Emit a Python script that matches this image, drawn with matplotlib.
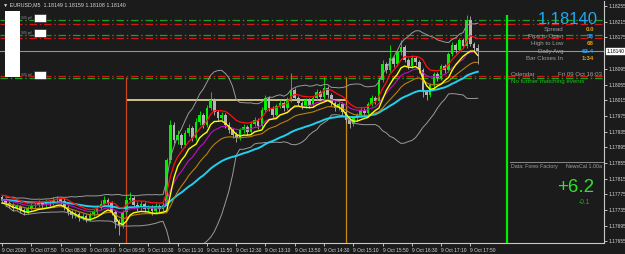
import matplotlib
matplotlib.use("Agg")
import matplotlib.pyplot as plt
from matplotlib.patches import Rectangle
import pandas as pd

W, H = 625, 254
plt.rcParams['font.family'] = ['Liberation Sans', 'DejaVu Sans']

# EURUSD M5, 9 Oct 2020, bars from 07:10
first_open = 1.17768
closes = [1.17761, 1.17753, 1.17748, 1.17740, 1.17745, 1.17735, 1.17730, 1.17740, 1.17745, 1.17748,
          1.17753, 1.17748, 1.17756, 1.17753, 1.17761, 1.17763, 1.17758, 1.17743, 1.17730, 1.17722,
          1.17725, 1.17715, 1.17720, 1.17712, 1.17725, 1.17730, 1.17740, 1.17750, 1.17761, 1.17753,
          1.17730, 1.17705, 1.17697, 1.17730, 1.17761, 1.17766, 1.17748, 1.17743, 1.17750, 1.17738,
          1.17740, 1.17733, 1.17745, 1.17738, 1.17748, 1.17863, 1.17952, 1.17914, 1.17926, 1.17901,
          1.17931, 1.17944, 1.17919, 1.17959, 1.17977, 1.17952, 1.17995, 1.18015, 1.17985, 1.17970,
          1.17977, 1.17952, 1.17939, 1.17926, 1.17919, 1.17939, 1.17947, 1.17934, 1.17954, 1.17965,
          1.17949, 1.17990, 1.18021, 1.17995, 1.17977, 1.18000, 1.18008, 1.17995, 1.18015, 1.18041,
          1.18021, 1.18008, 1.18000, 1.18015, 1.18003, 1.18021, 1.18036, 1.18023, 1.18046, 1.18028,
          1.18008, 1.17995, 1.18005, 1.17985, 1.17965, 1.17954, 1.17970, 1.17977, 1.17990, 1.17982,
          1.18005, 1.18021, 1.18013, 1.18066, 1.18107, 1.18092, 1.18123, 1.18107, 1.18138, 1.18151,
          1.18117, 1.18102, 1.18123, 1.18112, 1.18092, 1.18036, 1.18028, 1.18054, 1.18082, 1.18071,
          1.18102, 1.18092, 1.18133, 1.18156, 1.18143, 1.18168, 1.18153, 1.18219, 1.18158, 1.18149,
          1.18140]
highs = [1.17773, 1.17766, 1.17758, 1.17753, 1.17750, 1.17748, 1.17740, 1.17745, 1.17753, 1.17756,
         1.17761, 1.17758, 1.17763, 1.17761, 1.17768, 1.17771, 1.17768, 1.17766, 1.17748, 1.17735,
         1.17733, 1.17730, 1.17728, 1.17725, 1.17730, 1.17738, 1.17748, 1.17761, 1.17771, 1.17766,
         1.17758, 1.17735, 1.17712, 1.17735, 1.17773, 1.17781, 1.17771, 1.17756, 1.17758, 1.17756,
         1.17748, 1.17748, 1.17753, 1.17750, 1.17756, 1.17868, 1.17965, 1.17959, 1.17939, 1.17931,
         1.17939, 1.17954, 1.17949, 1.17970, 1.17987, 1.17982, 1.18003, 1.18036, 1.18021, 1.17990,
         1.17985, 1.17982, 1.17959, 1.17944, 1.17934, 1.17944, 1.17954, 1.17952, 1.17962, 1.17972,
         1.17970, 1.17998, 1.18028, 1.18026, 1.18000, 1.18005, 1.18015, 1.18013, 1.18023, 1.18084,
         1.18046, 1.18026, 1.18013, 1.18021, 1.18021, 1.18026, 1.18043, 1.18041, 1.18074, 1.18051,
         1.18033, 1.18013, 1.18010, 1.18010, 1.17990, 1.17970, 1.17975, 1.17982, 1.17998, 1.17995,
         1.18010, 1.18028, 1.18026, 1.18074, 1.18117, 1.18112, 1.18156, 1.18128, 1.18143, 1.18168,
         1.18156, 1.18123, 1.18130, 1.18128, 1.18117, 1.18097, 1.18041, 1.18059, 1.18087, 1.18087,
         1.18107, 1.18107, 1.18138, 1.18163, 1.18161, 1.18174, 1.18174, 1.18232, 1.18230, 1.18163,
         1.18159]
lows = [1.17753, 1.17745, 1.17740, 1.17733, 1.17735, 1.17728, 1.17722, 1.17725, 1.17735, 1.17738,
        1.17743, 1.17740, 1.17743, 1.17745, 1.17748, 1.17753, 1.17750, 1.17735, 1.17722, 1.17715,
        1.17715, 1.17707, 1.17710, 1.17705, 1.17707, 1.17720, 1.17725, 1.17735, 1.17745, 1.17745,
        1.17722, 1.17689, 1.17672, 1.17689, 1.17725, 1.17753, 1.17740, 1.17733, 1.17735, 1.17730,
        1.17728, 1.17722, 1.17725, 1.17730, 1.17733, 1.17740, 1.17855, 1.17906, 1.17903, 1.17893,
        1.17896, 1.17924, 1.17911, 1.17914, 1.17952, 1.17944, 1.17947, 1.17990, 1.17977, 1.17962,
        1.17965, 1.17944, 1.17931, 1.17919, 1.17908, 1.17914, 1.17931, 1.17926, 1.17929, 1.17949,
        1.17942, 1.17944, 1.17985, 1.17987, 1.17970, 1.17972, 1.17995, 1.17987, 1.17990, 1.18010,
        1.18015, 1.18000, 1.17993, 1.17995, 1.17995, 1.17998, 1.18015, 1.18015, 1.18018, 1.18021,
        1.18000, 1.17987, 1.17990, 1.17977, 1.17957, 1.17944, 1.17949, 1.17962, 1.17972, 1.17975,
        1.17977, 1.18000, 1.18005, 1.18008, 1.18061, 1.18084, 1.18087, 1.18100, 1.18102, 1.18130,
        1.18112, 1.18094, 1.18097, 1.18105, 1.18084, 1.18023, 1.18015, 1.18023, 1.18049, 1.18064,
        1.18066, 1.18084, 1.18087, 1.18128, 1.18135, 1.18138, 1.18148, 1.18148, 1.18153, 1.18140,
        1.18108]

start_time = "07:10"
tick_times = ["07:10", "07:50", "08:30", "09:10", "09:50", "10:30", "11:10", "11:50", "12:30",
              "13:10", "13:50", "14:30", "15:10", "15:50", "16:30", "17:10", "17:50"]
tick_labels = ["9 Oct 2020"] + ["9 Oct " + t for t in tick_times[1:]]
price_ticks = [1.18255, 1.18215, 1.18175, 1.18095, 1.18055, 1.18015, 1.17975, 1.17935,
               1.17895, 1.17855, 1.17815, 1.17775, 1.17735, 1.17695, 1.17655]

header = "EURUSD,M5  1.18149 1.18159 1.18108 1.18140"
current_price = 1.18140
green_levels = [1.18219, 1.18181, 1.18072]
red_levels = [1.18209, 1.18174, 1.18077]
range_level = 1.18015
session_times = ["10:00", "15:00"]
session_colors = ["#c8461a", "#c88a0a"]
session_top = 1.18074
news_time = "18:40"
news_top = 1.18232

info_labels = ["Spread", "Pips to Open", "High to Low", "Daily Avg", "Bar Closes In"]
info_values = ["0.0", "38", "68", "63.4", "1:34"]
info_colors = ["#e8a010", "#2aa8f8", "#e8a010", "#2aa8f8", "#e8a010"]


def bar_of(t):
    h, m = map(int, t.split(":"))
    h0, m0 = map(int, start_time.split(":"))
    return ((h * 60 + m) - (h0 * 60 + m0)) / 5.0


def fx(px):
    return px / W


def fy(py):
    return 1 - py / H


bg = "#1b1b1b"
fig = plt.figure(figsize=(W / 100, H / 100), dpi=100, facecolor=bg)
ax = fig.add_axes([0, 11 / H, 604 / W, 242 / H], facecolor=bg)
ax.set_xlim(-0.55, 164.5)
ax.set_ylim(1.17651, 1.18268)

n = len(closes)
idx = list(range(n))
opens = [first_open] + closes[:-1]

# candles
for i in idx:
    o, c = opens[i], closes[i]
    col = "#00f000" if c >= o else "#b4b4b4"
    ax.vlines(i, lows[i], highs[i], color=col, lw=0.6, zorder=2)
    lo_b = min(o, c)
    hgt = max(abs(c - o), 0.000012)
    ax.bar(i, hgt, bottom=lo_b, width=0.72, color=col, lw=0, zorder=2)

# indicators
s = pd.Series(closes)
hi = pd.Series(highs)
lo = pd.Series(lows)
mid = s.rolling(20, min_periods=1).mean()
sd = s.rolling(20, min_periods=2).std()
ax.plot(idx, mid + 2 * sd, color="#9a9a9a", lw=0.7, zorder=3)
ax.plot(idx, mid - 2 * sd, color="#9a9a9a", lw=0.7, zorder=3)
ax.plot(idx, s.ewm(span=40, adjust=False).mean(), color="#22d0ee", lw=1.4, zorder=3)
ax.plot(idx, lo.ewm(span=15, adjust=False).mean(), color="#b8800e", lw=0.8, zorder=3)
ax.plot(idx, s.ewm(span=13, adjust=False).mean(), color="#c010c0", lw=0.8, zorder=3)
ax.plot(idx, hi.ewm(span=8, adjust=False).mean(), color="#ff1010", lw=0.9, zorder=4)
ax.plot(idx, lo.ewm(span=5, adjust=False).mean(), color="#ffff00", lw=1.0, zorder=4)

# levels
dd = (0, (6, 2.2, 1.2, 2.2))
for lv in green_levels:
    ax.axhline(lv, color="#1ea01e", lw=0.9, ls=dd, zorder=1)
for lv in red_levels:
    ax.axhline(lv, color="#d01818", lw=0.9, ls=dd, zorder=1)
ax.axhline(current_price, color="#8a96a6", lw=0.8, zorder=1)
ax.hlines(range_level, bar_of(session_times[0]), bar_of(session_times[1]),
          color="#fff2a0", lw=1.1, zorder=1)
for t, col in zip(session_times, session_colors):
    ax.vlines(bar_of(t), 1.17600, session_top, color=col, lw=0.9, zorder=1)
ax.vlines(bar_of(news_time), 1.17600, news_top, color="#00ee00", lw=1.6, zorder=5)

# axes styling
for sp in ["top", "left"]:
    ax.spines[sp].set_visible(False)
for sp in ["right", "bottom"]:
    ax.spines[sp].set_color("#c8c8c8")
    ax.spines[sp].set_linewidth(0.8)
ax.yaxis.tick_right()
ax.set_yticks(price_ticks)
ax.set_yticklabels([f"{p:.5f}" for p in price_ticks])
ax.tick_params(axis="y", colors="#d8d8d8", labelsize=3.5, length=2, width=0.6, pad=1)
ax.set_xticks([bar_of(t) for t in tick_times])
ax.set_xticklabels(tick_labels, ha="left")
ax.tick_params(axis="x", colors="#d8d8d8", labelsize=3.5, length=2.5, width=0.6, pad=1)

# current price box
ax.text(1.004, current_price, f"{current_price:.5f}", transform=ax.get_yaxis_transform(),
        ha="left", va="center", fontsize=3.5, color="black", zorder=6, clip_on=False,
        bbox=dict(boxstyle="square,pad=0.15", fc="white", ec="white"))

# header
fig.text(fx(3), fy(5), "\u25bc " + header, fontsize=3.8, color="#d8d8d8", va="center")

# masked labels at left
fig.add_artist(Rectangle((fx(5), fy(77)), 15 / W, 66 / H, transform=fig.transFigure,
                         fc="white", ec="none", zorder=10))
for yb in [14, 29, 71]:
    fig.add_artist(Rectangle((fx(34), fy(yb + 8)), 12 / W, 8 / H, transform=fig.transFigure,
                             fc="white", ec="#303030", lw=0.5, zorder=10))
    fig.text(fx(21), fy(yb + 4), "SS pf", fontsize=3.2, color="#909090", va="center", zorder=10)

# info panel
fig.text(fx(598), fy(20), f"{current_price:.5f}", fontsize=12, color="#1eaaf0",
         ha="right", va="center", zorder=10)
for k, (lab, val, col) in enumerate(zip(info_labels, info_values, info_colors)):
    y = 29.5 + 7.2 * k
    fig.text(fx(563), fy(y), lab, fontsize=4.4, color="#a0a0a0", ha="right", va="center", zorder=10)
    fig.text(fx(594), fy(y), val, fontsize=4.4, color=col, ha="right", va="center",
             fontweight="bold", zorder=10)

fig.text(fx(511), fy(75), "Calendar", fontsize=4.4, color="#a0a0a0", va="center", zorder=10)
fig.text(fx(602), fy(75), "Fri 09 Oct 16:03", fontsize=4.4, color="#a0a0a0",
         ha="right", va="center", zorder=10)
fig.text(fx(511), fy(82), "No further matching events", fontsize=4.4, color="#10c810",
         va="center", zorder=10)
fig.add_artist(plt.Line2D([fx(510), fx(603)], [fy(162), fy(162)], transform=fig.transFigure,
                          color="#8a8a8a", lw=0.7, zorder=10))
fig.text(fx(511), fy(166.5), "Data: Forex Factory", fontsize=3.8, color="#a0a0a0",
         va="center", zorder=10)
fig.text(fx(602), fy(166.5), "NewsCal 1.00a", fontsize=3.8, color="#a0a0a0",
         ha="right", va="center", zorder=10)

fig.text(fx(594), fy(187), "+6.2", fontsize=13.5, color="#30e030", ha="right", va="center", zorder=10)
fig.text(fx(590), fy(202), "-0.1", fontsize=4.8, color="#20b020", ha="right", va="center", zorder=10)

fig.savefig("out.png", dpi=100, facecolor=bg)
